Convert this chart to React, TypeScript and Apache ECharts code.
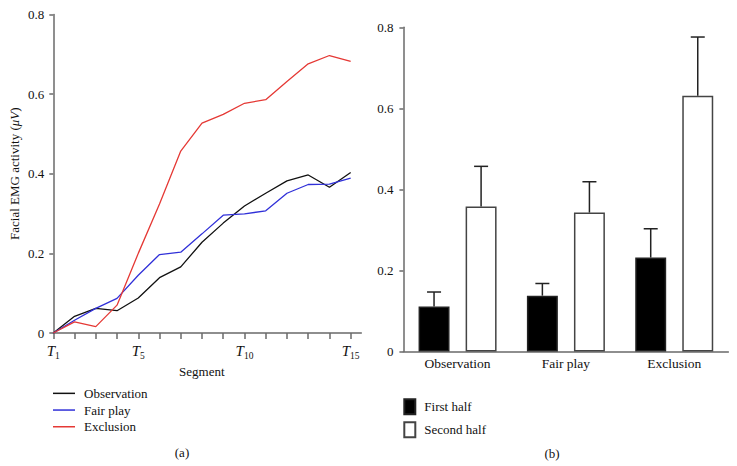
import React, { useEffect, useRef } from "react";
import * as echarts from "echarts";

const segments = [1, 2, 3, 4, 5, 6, 7, 8, 9, 10, 11, 12, 13, 14, 15];
const labeledSegments = [1, 5, 10, 15];
const observation = [0, 0.042, 0.062, 0.056, 0.088, 0.139, 0.166, 0.228, 0.276, 0.319, 0.351, 0.382, 0.397, 0.366, 0.403];
const fairPlay = [0, 0.032, 0.062, 0.087, 0.145, 0.197, 0.203, 0.249, 0.296, 0.299, 0.307, 0.351, 0.373, 0.374, 0.389];
const exclusion = [0, 0.028, 0.016, 0.07, 0.2, 0.324, 0.457, 0.527, 0.549, 0.577, 0.586, 0.632, 0.676, 0.697, 0.682];

const conditions = ["Observation", "Fair play", "Exclusion"];
const firstHalf = [0.111, 0.138, 0.232];
const firstHalfErr = [0.036, 0.030, 0.071];
const secondHalf = [0.358, 0.343, 0.631];
const secondHalfErr = [0.099, 0.076, 0.145];

const FONT = "Liberation Serif";
const AXIS = "#6a6a6a";

const BAR_CAT_GAP = 0.28;
const BAR_GAP = 0.52;

function errRender(side: number) {
  return (params: any, api: any) => {
    const idx = api.value(0);
    const v = api.value(1);
    const e = api.value(2);
    const base = api.coord([idx, v]);
    const top = api.coord([idx, v + e]);
    const band = api.size([1, 0])[0];
    const barW = (band * (1 - BAR_CAT_GAP)) / (2 + BAR_GAP);
    const off = ((barW + barW * BAR_GAP) / 2) * side;
    const x = base[0] + off;
    const style = { stroke: "#222", lineWidth: 1.5 };
    return {
      type: "group",
      children: [
        { type: "line", shape: { x1: x, y1: base[1], x2: x, y2: top[1] }, style },
        { type: "line", shape: { x1: x - 7, y1: top[1], x2: x + 7, y2: top[1] }, style },
      ],
    };
  };
}

export default function App() {
  const ref = useRef<HTMLDivElement>(null);
  useEffect(() => {
    if (!ref.current) return;
    const chart = echarts.init(ref.current, undefined, { renderer: "svg" });
    const lineSeries = (name: string, vals: number[], color: string) => ({
      type: "line",
      name,
      xAxisIndex: 0,
      yAxisIndex: 0,
      data: segments.map((s, i) => [s, vals[i]]),
      symbol: "none",
      lineStyle: { color, width: 1.3 },
      itemStyle: { color },
    });
    const textStyle = { fontFamily: FONT, fontSize: 13, color: "#111" };
    chart.setOption({
      animation: false,
      textStyle: { fontFamily: FONT },
      grid: [
        { left: 53.3, top: 14.5, width: 308, height: 318.5 },
        { left: 403.4, top: 27.3, width: 325, height: 324.3 },
      ],
      xAxis: [
        {
          type: "value",
          gridIndex: 0,
          min: 1,
          max: 15.5,
          name: "Segment",
          nameLocation: "middle",
          nameGap: 31,
          nameTextStyle: { ...textStyle, padding: [0, 11, 0, 0] },
          axisLine: { lineStyle: { color: AXIS, width: 1.5 } },
          axisTick: { show: true, length: 6, customValues: segments, lineStyle: { color: AXIS, width: 1.5 } },
          axisLabel: {
            customValues: labeledSegments,
            margin: 9,
            formatter: (v: number) => `{t|T}{s|${v}}`,
            rich: {
              t: { fontFamily: FONT, fontSize: 15, fontStyle: "italic", color: "#111", lineHeight: 18 },
              s: { fontFamily: FONT, fontSize: 9.5, color: "#111", lineHeight: 18, padding: [9, 0, 0, 0] },
            },
          },
          splitLine: { show: false },
        },
        {
          type: "category",
          gridIndex: 1,
          data: conditions,
          axisLine: { lineStyle: { color: AXIS, width: 1.5 } },
          axisTick: { show: false },
          axisLabel: { ...textStyle, fontSize: 13.5, margin: 5 },
        },
      ],
      yAxis: [
        {
          type: "value",
          gridIndex: 0,
          min: 0,
          max: 0.8,
          interval: 0.2,
          name: "{n|Facial EMG activity (}{i|μV}{n|)}",
          nameLocation: "middle",
          nameGap: 32,
          nameTextStyle: {
            rich: {
              n: { fontFamily: FONT, fontSize: 13, color: "#111" },
              i: { fontFamily: FONT, fontSize: 13, fontStyle: "italic", color: "#111" },
            },
          },
          axisLine: { show: true, lineStyle: { color: AXIS, width: 1.5 } },
          axisTick: { show: true, length: 4, lineStyle: { color: AXIS, width: 1.5 } },
          axisLabel: { ...textStyle, margin: 9 },
          splitLine: { show: false },
        },
        {
          type: "value",
          gridIndex: 1,
          min: 0,
          max: 0.8,
          interval: 0.2,
          axisLine: { show: true, lineStyle: { color: AXIS, width: 1.5 } },
          axisTick: { show: true, length: 4, lineStyle: { color: AXIS, width: 1.5 } },
          axisLabel: { ...textStyle, margin: 10 },
          splitLine: { show: false },
        },
      ],
      legend: [
        {
          data: ["Observation", "Fair play", "Exclusion"],
          orient: "vertical",
          left: 53,
          top: 385,
          icon: "rect",
          itemWidth: 22,
          itemHeight: 1.5,
          itemGap: 0,
          padding: 0,
          textStyle: { ...textStyle, lineHeight: 16.7, padding: [0, 0, 0, 4] },
        },
        {
          data: ["First half", "Second half"],
          orient: "vertical",
          left: 403.3,
          top: 398.3,
          icon: "rect",
          itemWidth: 11,
          itemHeight: 15,
          itemGap: 6,
          padding: 0,
          textStyle: { ...textStyle, padding: [0, 0, 0, 4] },
        },
      ],
      series: [
        lineSeries("Observation", observation, "#111"),
        lineSeries("Fair play", fairPlay, "#3030d8"),
        lineSeries("Exclusion", exclusion, "#e53935"),
        {
          type: "bar",
          name: "First half",
          xAxisIndex: 1,
          yAxisIndex: 1,
          data: firstHalf,
          barCategoryGap: "28%",
          barGap: "52%",
          itemStyle: { color: "#000", borderColor: "#222", borderWidth: 1.5 },
        },
        {
          type: "bar",
          name: "Second half",
          xAxisIndex: 1,
          yAxisIndex: 1,
          data: secondHalf,
          barCategoryGap: "28%",
          barGap: "52%",
          itemStyle: { color: "#fff", borderColor: "#444", borderWidth: 1.5 },
        },
        {
          type: "custom",
          xAxisIndex: 1,
          yAxisIndex: 1,
          data: firstHalf.map((v, i) => [i, v, firstHalfErr[i]]),
          encode: { x: 0, y: 1 },
          renderItem: errRender(-1),
          z: 5,
        },
        {
          type: "custom",
          xAxisIndex: 1,
          yAxisIndex: 1,
          data: secondHalf.map((v, i) => [i, v, secondHalfErr[i]]),
          encode: { x: 0, y: 1 },
          renderItem: errRender(1),
          z: 5,
        },
      ],
      graphic: [
        { type: "text", x: 182, y: 452, style: { text: "(a)", fontFamily: FONT, fontSize: 13, fill: "#111", align: "center", verticalAlign: "middle" } },
        { type: "text", x: 552, y: 453, style: { text: "(b)", fontFamily: FONT, fontSize: 13, fill: "#111", align: "center", verticalAlign: "middle" } },
      ],
    });
    return () => chart.dispose();
  }, []);
  return <div ref={ref} style={{ position: "absolute", left: 0, top: 0, width: 737, height: 466 }} />;
}
